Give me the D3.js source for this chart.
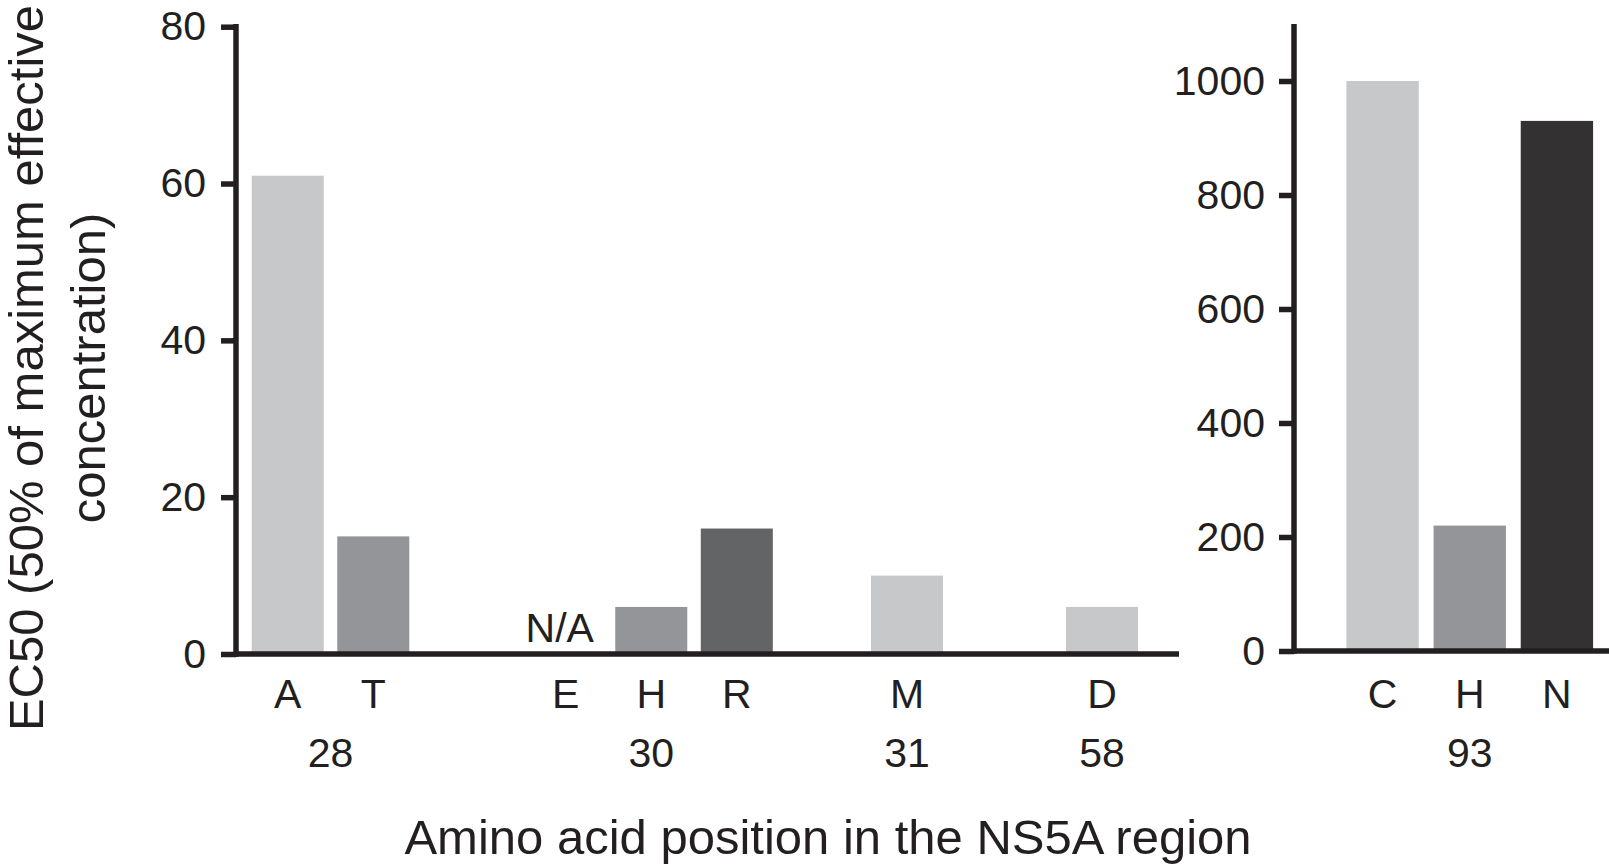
<!DOCTYPE html>
<html>
<head>
<meta charset="utf-8">
<script src="https://cdn.jsdelivr.net/npm/d3@7"></script>
<style>
  html, body { margin: 0; padding: 0; background: #ffffff; }
  svg { display: block; }
  text { font-family: "Liberation Sans", Arial, Helvetica, sans-serif; fill: #231f20; }
</style>
</head>
<body>
<svg id="chart" width="1609" height="865"></svg>
<script>
// ---------------- data ----------------
const leftCategories = ["A", "T", "E", "H", "R", "M", "D"];
const leftGroups     = ["28", "28", "30", "30", "30", "31", "58"];
const leftValues     = [61, 15, null, 6, 16, 10, 6];
const leftTicks      = [0, 20, 40, 60, 80];

const rightCategories = ["C", "H", "N"];
const rightGroups     = ["93", "93", "93"];
const rightValues     = [1000, 220, 930];
const rightTicks      = [0, 200, 400, 600, 800, 1000];

const missingLabel = "N/A";
const yTitleLines = ["EC50 (50% of maximum effective", "concentration)"];
const xTitle = "Amino acid position in the NS5A region";

// ---------------- styles / layout ----------------
const ink = "#231f20";
const shade = { light: "#c7c8ca", mid: "#939598", dark: "#636466", darkest: "#333132" };
const leftShades  = ["light", "mid", "mid", "mid", "dark", "light", "light"];
const rightShades = ["light", "mid", "darkest"];
const groupGapSlots = [1.25, 0.99, 1.28];   // extra space between consecutive position groups
const axisW = 5.5, tickLen = 15;
const labelSize = 41, titleSize = 49;

const svg = d3.select("#chart");

// ---------------- left panel ----------------
const yL = d3.scaleLinear().domain([0, 80]).range([654, 26.7]);

const leftSlots = [];
{
  let s = 0, gi = 0;
  leftCategories.forEach((c, i) => {
    if (i > 0) {
      s += 1;
      if (leftGroups[i] !== leftGroups[i - 1]) s += groupGapSlots[gi++];
    }
    leftSlots.push(s);
  });
}
const xL = d3.scaleLinear().domain([-0.605, leftSlots[leftSlots.length - 1] + 0.9]).range([236, 1179]);
const barWL = xL(0.842) - xL(0);

const left = leftCategories.map((c, i) => ({ c, g: leftGroups[i], v: leftValues[i], slot: leftSlots[i], shade: leftShades[i] }));

svg.append("g").selectAll("rect").data(left.filter(d => d.v != null)).join("rect")
  .attr("x", d => xL(d.slot) - barWL / 2)
  .attr("width", barWL)
  .attr("y", d => yL(d.v))
  .attr("height", d => yL(0) - yL(d.v))
  .attr("fill", d => shade[d.shade]);

// N/A marker
svg.append("g").selectAll("text").data(left.filter(d => d.v == null)).join("text")
  .attr("x", d => xL(d.slot) - 6)
  .attr("y", yL(0) - 12)
  .attr("text-anchor", "middle")
  .attr("font-size", labelSize)
  .text(missingLabel);

// y axis (left)
const axL = svg.append("g").attr("transform", `translate(${xL.range()[0]},0)`)
  .call(d3.axisLeft(yL).tickValues(leftTicks).tickFormat(d3.format("d"))
    .tickSize(tickLen).tickPadding(15).tickSizeOuter(0));
axL.select(".domain").remove();
axL.selectAll(".tick line").attr("stroke", ink).attr("stroke-width", axisW);
axL.selectAll(".tick text").attr("font-size", labelSize).attr("fill", ink)
  .style("font-family", '"Liberation Sans", Arial, sans-serif');

svg.append("line")
  .attr("x1", xL.range()[0]).attr("x2", xL.range()[0])
  .attr("y1", yL(80) - axisW / 2).attr("y2", yL(0) + axisW / 2)
  .attr("stroke", ink).attr("stroke-width", axisW);
svg.append("line")
  .attr("x1", xL.range()[0]).attr("x2", xL.range()[1])
  .attr("y1", yL(0)).attr("y2", yL(0))
  .attr("stroke", ink).attr("stroke-width", axisW);

// category labels
svg.append("g").selectAll("text").data(left).join("text")
  .attr("x", d => xL(d.slot))
  .attr("y", 708)
  .attr("text-anchor", "middle")
  .attr("font-size", labelSize)
  .text(d => d.c);

// group labels
const leftGroupList = Array.from(d3.group(left, d => d.g), ([g, items]) => ({ g, x: d3.mean(items, d => xL(d.slot)) }));
svg.append("g").selectAll("text").data(leftGroupList).join("text")
  .attr("x", d => d.x)
  .attr("y", 767)
  .attr("text-anchor", "middle")
  .attr("font-size", labelSize)
  .text(d => d.g);

// ---------------- right panel ----------------
const yR = d3.scaleLinear().domain([0, 1100]).range([651, 24]);
const xR = d3.scaleBand().domain(rightCategories).range([1339, 1600.5]).paddingInner(0.17).paddingOuter(0.085);
const right = rightCategories.map((c, i) => ({ c, g: rightGroups[i], v: rightValues[i], shade: rightShades[i] }));
const axisXR = 1294;

svg.append("g").selectAll("rect").data(right).join("rect")
  .attr("x", d => xR(d.c))
  .attr("width", xR.bandwidth())
  .attr("y", d => yR(d.v))
  .attr("height", d => yR(0) - yR(d.v))
  .attr("fill", d => shade[d.shade]);

const axR = svg.append("g").attr("transform", `translate(${axisXR},0)`)
  .call(d3.axisLeft(yR).tickValues(rightTicks).tickFormat(d3.format("d"))
    .tickSize(tickLen).tickPadding(14).tickSizeOuter(0));
axR.select(".domain").remove();
axR.selectAll(".tick line").attr("stroke", ink).attr("stroke-width", axisW);
axR.selectAll(".tick text").attr("font-size", labelSize).attr("fill", ink)
  .style("font-family", '"Liberation Sans", Arial, sans-serif');

svg.append("line")
  .attr("x1", axisXR).attr("x2", axisXR)
  .attr("y1", yR(1100)).attr("y2", yR(0) + axisW / 2)
  .attr("stroke", ink).attr("stroke-width", axisW);
svg.append("line")
  .attr("x1", axisXR).attr("x2", 1609)
  .attr("y1", yR(0)).attr("y2", yR(0))
  .attr("stroke", ink).attr("stroke-width", axisW);

svg.append("g").selectAll("text").data(right).join("text")
  .attr("x", d => xR(d.c) + xR.bandwidth() / 2)
  .attr("y", 708)
  .attr("text-anchor", "middle")
  .attr("font-size", labelSize)
  .text(d => d.c);

const rightGroupList = Array.from(d3.group(right, d => d.g), ([g, items]) => ({ g, x: d3.mean(items, d => xR(d.c) + xR.bandwidth() / 2) }));
svg.append("g").selectAll("text").data(rightGroupList).join("text")
  .attr("x", d => d.x)
  .attr("y", 767)
  .attr("text-anchor", "middle")
  .attr("font-size", labelSize)
  .text(d => d.g);

// ---------------- titles ----------------
const yTitle = svg.append("text")
  .attr("transform", "translate(0,368) rotate(-90)")
  .attr("text-anchor", "middle")
  .attr("font-size", titleSize);
yTitle.selectAll("tspan").data(yTitleLines).join("tspan")
  .attr("x", 0)
  .attr("y", (d, i) => 43 + i * 62)
  .text(d => d);

svg.append("text")
  .attr("x", 828)
  .attr("y", 854)
  .attr("text-anchor", "middle")
  .attr("font-size", titleSize)
  .text(xTitle);
</script>
</body>
</html>
